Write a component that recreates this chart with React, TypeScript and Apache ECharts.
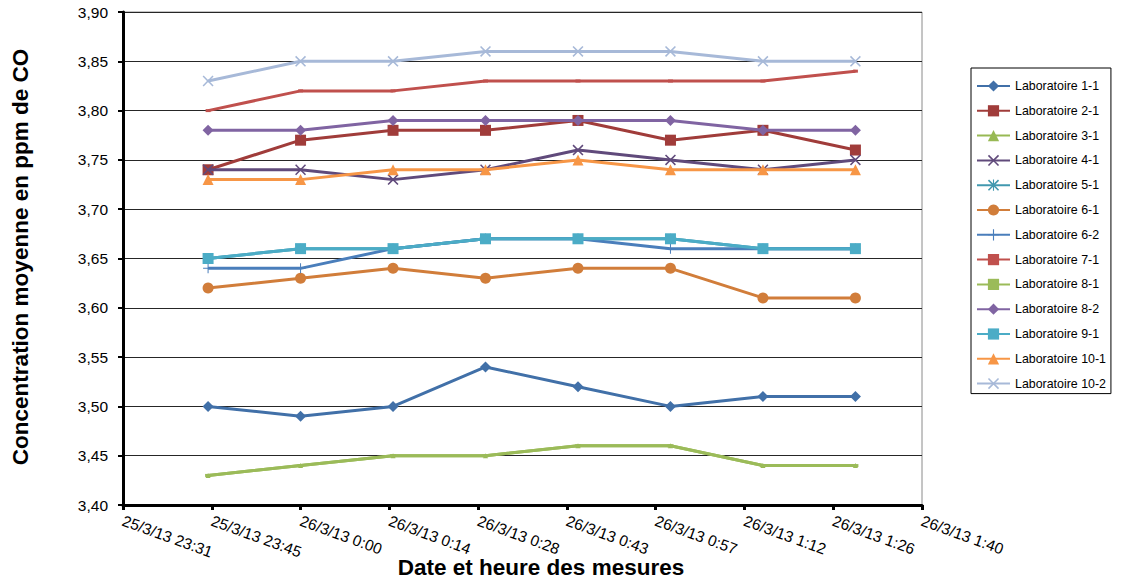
import React, { useEffect, useRef } from "react";
import * as echarts from "echarts";

const times = [
  "25/3/13 23:45",
  "26/3/13 0:00",
  "26/3/13 0:15",
  "26/3/13 0:30",
  "26/3/13 0:45",
  "26/3/13 1:00",
  "26/3/13 1:15",
  "26/3/13 1:30",
];

const labNames = [
  "Laboratoire 1-1",
  "Laboratoire 2-1",
  "Laboratoire 3-1",
  "Laboratoire 4-1",
  "Laboratoire 5-1",
  "Laboratoire 6-1",
  "Laboratoire 6-2",
  "Laboratoire 7-1",
  "Laboratoire 8-1",
  "Laboratoire 8-2",
  "Laboratoire 9-1",
  "Laboratoire 10-1",
  "Laboratoire 10-2",
];

const lab1_1 = [3.5, 3.49, 3.5, 3.54, 3.52, 3.5, 3.51, 3.51];
const lab2_1 = [3.74, 3.77, 3.78, 3.78, 3.79, 3.77, 3.78, 3.76];
const lab3_1 = [3.43, 3.44, 3.45, 3.45, 3.46, 3.46, 3.44, 3.44];
const lab4_1 = [3.74, 3.74, 3.73, 3.74, 3.76, 3.75, 3.74, 3.75];
const lab5_1 = [3.65, 3.66, 3.66, 3.67, 3.67, 3.67, 3.66, 3.66];
const lab6_1 = [3.62, 3.63, 3.64, 3.63, 3.64, 3.64, 3.61, 3.61];
const lab6_2 = [3.64, 3.64, 3.66, 3.67, 3.67, 3.66, 3.66, 3.66];
const lab7_1 = [3.8, 3.82, 3.82, 3.83, 3.83, 3.83, 3.83, 3.84];
const lab8_1 = [3.43, 3.44, 3.45, 3.45, 3.46, 3.46, 3.44, 3.44];
const lab8_2 = [3.78, 3.78, 3.79, 3.79, 3.79, 3.79, 3.78, 3.78];
const lab9_1 = [3.65, 3.66, 3.66, 3.67, 3.67, 3.67, 3.66, 3.66];
const lab10_1 = [3.73, 3.73, 3.74, 3.74, 3.75, 3.74, 3.74, 3.74];
const lab10_2 = [3.83, 3.85, 3.85, 3.86, 3.86, 3.86, 3.85, 3.85];

const labValues = [
  lab1_1, lab2_1, lab3_1, lab4_1, lab5_1, lab6_1, lab6_2,
  lab7_1, lab8_1, lab8_2, lab9_1, lab10_1, lab10_2,
];

// axis range: 25/3/13 23:31:12 to 26/3/13 1:40:48, step 0.01 day (seconds since 25/3/13 0:00)
const xMin = 84672;
const xMax = 92448;
const xStep = 864;

const FONT = 'Arial, "Liberation Sans", sans-serif';

const X_PATH =
  "path://M0,2L2,0L10,8L18,0L20,2L12,10L20,18L18,20L10,12L2,20L0,18L8,10Z";
const STAR_PATH =
  "path://M0,2L2,0L10,8L18,0L20,2L12,10L20,18L18,20L10,12L2,20L0,18L8,10Z M9,0H11V20H9Z";
const PLUS_PATH = "path://M9,0H11V9H20V11H11V20H9V11H0V9H9Z";

const styles: { color: string; symbol: string; size: number | number[] }[] = [
  { color: "#4170A8", symbol: "diamond", size: 11 },
  { color: "#A03C3A", symbol: "rect", size: 11 },
  { color: "#98B954", symbol: "triangle", size: 5 },
  { color: "#604A7B", symbol: X_PATH, size: 11 },
  { color: "#4198AF", symbol: STAR_PATH, size: 10 },
  { color: "#D17D3A", symbol: "circle", size: 11 },
  { color: "#4A7EBB", symbol: PLUS_PATH, size: 10 },
  { color: "#C0504D", symbol: "rect", size: [5, 3] },
  { color: "#9BBB59", symbol: "rect", size: [6, 3] },
  { color: "#8064A2", symbol: "diamond", size: 11 },
  { color: "#4BACC6", symbol: "rect", size: 11 },
  { color: "#F79646", symbol: "triangle", size: 11 },
  { color: "#A7B9D8", symbol: X_PATH, size: 11 },
];

function parseTime(s: string): number {
  const [d, t] = s.split(" ");
  const day = parseInt(d.split("/")[0], 10);
  const [h, m] = t.split(":").map((v) => parseInt(v, 10));
  return (day - 25) * 86400 + h * 3600 + m * 60;
}

function formatTime(v: number): string {
  const s = Math.round(v);
  const day = 25 + Math.floor(s / 86400);
  const rem = s % 86400;
  const h = Math.floor(rem / 3600);
  const m = Math.floor((rem % 3600) / 60);
  return `${day}/3/13 ${h}:${m < 10 ? "0" + m : m}`;
}

export default function App() {
  const ref = useRef<HTMLDivElement>(null);

  useEffect(() => {
    if (!ref.current) return;
    const chart = echarts.init(ref.current, null, { renderer: "svg" });
    const xs = times.map(parseTime);

    const series = labNames.map((name, i) => ({
      name,
      type: "line",
      data: labValues[i].map((v, j) => [xs[j], v]),
      symbol: styles[i].symbol,
      symbolSize: styles[i].size,
      showSymbol: true,
      lineStyle: { color: styles[i].color, width: 3 },
      itemStyle: { color: styles[i].color, borderWidth: 0 },
      emphasis: { disabled: true },
      z: 3 + i,
    }));

    chart.setOption({
      animation: false,
      textStyle: { fontFamily: FONT },
      grid: {
        left: 123,
        right: 199,
        top: 12,
        bottom: 80,
        show: true,
        borderColor: "#8a8a8a",
        borderWidth: 1,
      },
      xAxis: {
        type: "value",
        min: xMin,
        max: xMax,
        interval: xStep,
        axisLine: { show: true, lineStyle: { color: "#000", width: 3 } },
        axisTick: { show: true, length: 5, lineStyle: { color: "#000", width: 3 } },
        splitLine: { show: false },
        axisLabel: {
          rotate: -20,
          margin: 15,
          color: "#000",
          fontSize: 15.5,
          fontFamily: FONT,
          formatter: (v: number) => formatTime(v),
          showMinLabel: true,
          showMaxLabel: true,
        },
      },
      yAxis: {
        type: "value",
        min: 3.4,
        max: 3.9,
        interval: 0.05,
        axisLine: { show: true, lineStyle: { color: "#000", width: 3 } },
        axisTick: { show: true, length: 5, lineStyle: { color: "#000", width: 2 } },
        splitLine: { show: true, lineStyle: { color: "#262626", width: 1 } },
        axisLabel: {
          margin: 15,
          color: "#000",
          fontSize: 15.5,
          fontFamily: FONT,
          formatter: (v: number) => v.toFixed(2).replace(".", ","),
        },
      },
      legend: {
        orient: "vertical",
        left: 971,
        top: 68,
        padding: [12, 5, 4, 5],
        itemWidth: 33,
        itemHeight: 14,
        itemGap: 12.8,
        borderColor: "#000",
        borderWidth: 1,
        borderRadius: 0,
        textStyle: { fontSize: 12.4, color: "#000", fontFamily: FONT },
        data: labNames,
      },
      graphic: [
        {
          type: "text",
          x: 20,
          y: 257,
          rotation: Math.PI / 2,
          style: {
            text: "Concentration moyenne en ppm de CO",
            font: `bold 22.5px ${FONT}`,
            fill: "#000",
            align: "center",
            verticalAlign: "middle",
          },
        },
        {
          type: "text",
          x: 541,
          y: 567,
          style: {
            text: "Date et heure des mesures",
            font: `bold 22.5px ${FONT}`,
            fill: "#000",
            align: "center",
            verticalAlign: "middle",
          },
        },
      ],
      series,
    });

    return () => chart.dispose();
  }, []);

  return (
    <div
      ref={ref}
      style={{ position: "absolute", left: 0, top: 0, width: 1121, height: 585 }}
    />
  );
}
